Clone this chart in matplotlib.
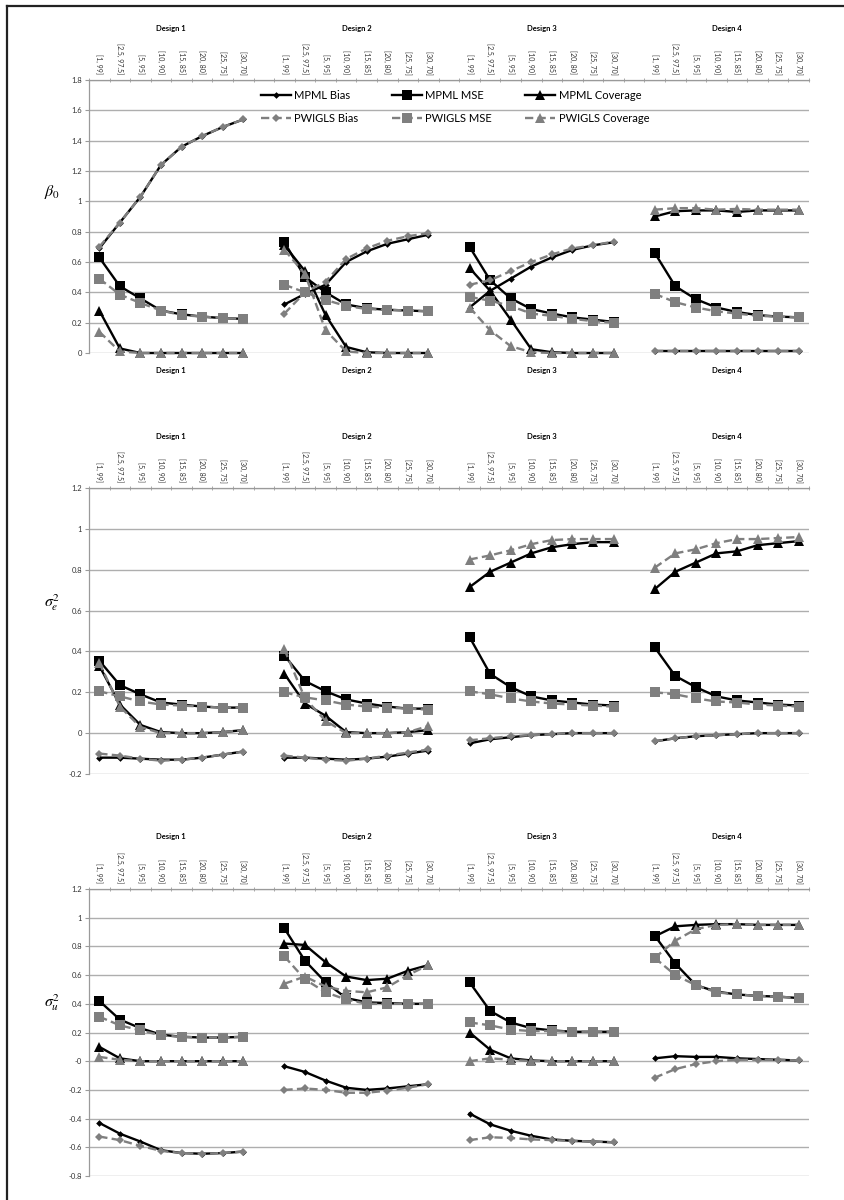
import numpy as np
import matplotlib.pyplot as plt
from matplotlib.lines import Line2D
from matplotlib.ticker import FixedLocator, FuncFormatter

plt.rcParams['font.family'] = ['Lato', 'DejaVu Sans']
plt.rcParams['mathtext.fontset'] = 'stix'
plt.rcParams['axes.unicode_minus'] = False

# Categories and designs
categories = ['[1, 99]', '[2.5, 97.5]', '[5, 95]', '[10, 90]',
              '[15, 85]', '[20, 80]', '[25, 75]', '[30, 70]']
designs = ['Design 1', 'Design 2', 'Design 3', 'Design 4']
series_names = ['MPML Bias', 'MPML MSE', 'MPML Coverage',
                'PWIGLS Bias', 'PWIGLS MSE', 'PWIGLS Coverage']

# beta_0 (values for design 1..4, 8 categories each)
b0_mpml_bias = [0.69, 0.86, 1.03, 1.24, 1.36, 1.43, 1.49, 1.54,
                0.32, 0.39, 0.45, 0.60, 0.67, 0.72, 0.75, 0.78,
                0.30, 0.41, 0.49, 0.57, 0.63, 0.68, 0.71, 0.73,
                0.015, 0.015, 0.015, 0.015, 0.015, 0.015, 0.015, 0.015]
b0_mpml_mse = [0.63, 0.44, 0.36, 0.28, 0.255, 0.24, 0.23, 0.225,
               0.73, 0.50, 0.40, 0.32, 0.295, 0.285, 0.28, 0.275,
               0.70, 0.48, 0.36, 0.29, 0.26, 0.235, 0.22, 0.205,
               0.66, 0.44, 0.355, 0.30, 0.27, 0.25, 0.24, 0.235]
b0_mpml_cov = [0.28, 0.03, 0, 0, 0, 0, 0, 0,
               0.71, 0.54, 0.25, 0.04, 0.005, 0, 0, 0,
               0.56, 0.41, 0.22, 0.025, 0.005, 0, 0, 0,
               0.90, 0.935, 0.94, 0.94, 0.93, 0.94, 0.94, 0.94]
b0_pwigls_bias = [0.70, 0.86, 1.03, 1.24, 1.36, 1.43, 1.49, 1.54,
                  0.26, 0.40, 0.47, 0.62, 0.69, 0.74, 0.77, 0.79,
                  0.45, 0.48, 0.54, 0.60, 0.65, 0.69, 0.71, 0.735,
                  0.015, 0.015, 0.015, 0.015, 0.015, 0.015, 0.015, 0.015]
b0_pwigls_mse = [0.49, 0.385, 0.33, 0.28, 0.25, 0.24, 0.23, 0.225,
                 0.45, 0.40, 0.35, 0.31, 0.29, 0.285, 0.28, 0.275,
                 0.37, 0.345, 0.31, 0.26, 0.245, 0.225, 0.21, 0.20,
                 0.39, 0.335, 0.30, 0.275, 0.26, 0.245, 0.24, 0.235]
b0_pwigls_cov = [0.14, 0.01, 0, 0, 0, 0, 0, 0,
                 0.68, 0.52, 0.15, 0.01, 0, 0, 0, 0,
                 0.30, 0.15, 0.045, 0.005, 0, 0, 0, 0,
                 0.945, 0.955, 0.955, 0.945, 0.95, 0.945, 0.945, 0.945]

# sigma_e^2
se_mpml_bias = [-0.12, -0.12, -0.125, -0.13, -0.13, -0.12, -0.105, -0.09,
                -0.12, -0.12, -0.125, -0.13, -0.125, -0.115, -0.10, -0.085,
                -0.05, -0.03, -0.02, -0.01, -0.005, 0, 0, 0,
                -0.04, -0.025, -0.015, -0.01, -0.005, 0, 0, 0]
se_mpml_mse = [0.355, 0.235, 0.19, 0.15, 0.14, 0.13, 0.125, 0.125,
               0.38, 0.255, 0.205, 0.165, 0.145, 0.13, 0.12, 0.12,
               0.47, 0.29, 0.225, 0.18, 0.16, 0.15, 0.14, 0.135,
               0.42, 0.28, 0.225, 0.18, 0.16, 0.15, 0.14, 0.135]
se_mpml_cov = [0.33, 0.14, 0.04, 0.005, 0, 0, 0.005, 0.015,
               0.29, 0.145, 0.085, 0.005, 0, 0, 0.005, 0.015,
               0.715, 0.79, 0.835, 0.88, 0.91, 0.925, 0.935, 0.935,
               0.705, 0.79, 0.835, 0.88, 0.89, 0.92, 0.93, 0.94]
se_pwigls_bias = [-0.10, -0.11, -0.125, -0.135, -0.13, -0.12, -0.105, -0.09,
                  -0.11, -0.12, -0.13, -0.135, -0.125, -0.11, -0.095, -0.08,
                  -0.035, -0.025, -0.015, -0.01, -0.005, 0, 0, 0,
                  -0.04, -0.025, -0.015, -0.01, -0.005, 0, 0, 0]
se_pwigls_mse = [0.205, 0.18, 0.155, 0.14, 0.135, 0.13, 0.125, 0.125,
                 0.20, 0.175, 0.16, 0.14, 0.13, 0.125, 0.12, 0.115,
                 0.205, 0.19, 0.17, 0.155, 0.145, 0.14, 0.135, 0.13,
                 0.20, 0.19, 0.17, 0.155, 0.15, 0.14, 0.135, 0.13]
se_pwigls_cov = [0.345, 0.13, 0.03, 0, 0, 0, 0.005, 0.015,
                 0.41, 0.17, 0.06, 0, 0, 0, 0.005, 0.035,
                 0.85, 0.87, 0.895, 0.925, 0.945, 0.95, 0.95, 0.95,
                 0.81, 0.88, 0.90, 0.93, 0.95, 0.95, 0.955, 0.96]

# sigma_u^2
su_mpml_bias = [-0.43, -0.505, -0.56, -0.62, -0.64, -0.645, -0.64, -0.63,
                -0.035, -0.075, -0.135, -0.185, -0.20, -0.19, -0.175, -0.16,
                -0.365, -0.44, -0.485, -0.52, -0.545, -0.555, -0.56, -0.565,
                0.02, 0.035, 0.03, 0.03, 0.02, 0.015, 0.01, 0.005]
su_mpml_mse = [0.42, 0.29, 0.23, 0.185, 0.17, 0.165, 0.165, 0.17,
               0.925, 0.70, 0.55, 0.44, 0.41, 0.405, 0.40, 0.40,
               0.55, 0.35, 0.27, 0.23, 0.215, 0.205, 0.205, 0.205,
               0.875, 0.68, 0.53, 0.485, 0.465, 0.455, 0.45, 0.44]
su_mpml_cov = [0.10, 0.02, 0, 0, 0, 0, 0, 0,
               0.82, 0.81, 0.69, 0.59, 0.565, 0.575, 0.63, 0.67,
               0.20, 0.08, 0.02, 0.005, 0, 0, 0, 0,
               0.87, 0.94, 0.95, 0.955, 0.955, 0.95, 0.95, 0.95]
su_pwigls_bias = [-0.525, -0.55, -0.59, -0.625, -0.64, -0.645, -0.64, -0.63,
                  -0.20, -0.19, -0.20, -0.22, -0.22, -0.205, -0.185, -0.16,
                  -0.55, -0.53, -0.535, -0.545, -0.55, -0.555, -0.56, -0.565,
                  -0.115, -0.055, -0.02, 0.0, 0.01, 0.01, 0.01, 0.005]
su_pwigls_mse = [0.31, 0.25, 0.215, 0.18, 0.17, 0.165, 0.165, 0.17,
                 0.73, 0.57, 0.48, 0.43, 0.40, 0.40, 0.40, 0.40,
                 0.27, 0.25, 0.22, 0.21, 0.21, 0.205, 0.205, 0.205,
                 0.72, 0.60, 0.53, 0.48, 0.465, 0.455, 0.45, 0.44]
su_pwigls_cov = [0.03, 0.01, 0, 0, 0, 0, 0, 0,
                 0.54, 0.59, 0.52, 0.49, 0.48, 0.515, 0.60, 0.67,
                 0.0, 0.02, 0.01, 0, 0, 0, 0, 0,
                 0.72, 0.84, 0.92, 0.95, 0.955, 0.95, 0.95, 0.95]

GREY = '#7f7f7f'
DASH = (0, (3.5, 1.8))
styles = [
    dict(color='black', ls='-', marker='D', ms=3.4),
    dict(color='black', ls='-', marker='s', ms=7),
    dict(color='black', ls='-', marker='^', ms=7),
    dict(color=GREY, ls=DASH, marker='D', ms=4.4),
    dict(color=GREY, ls=DASH, marker='s', ms=7),
    dict(color=GREY, ls=DASH, marker='^', ms=7.5),
]

ncat = len(categories)
step = ncat + 1
ntot = step * len(designs) - 1

fig = plt.figure(figsize=(8.45, 12), dpi=100)


def draw_panel(rect, data, ylim, ylabel, ylabel_y, bottom_labels=False, legend=False):
    ax = fig.add_axes(rect)
    handles = []
    for vals, st in zip(data, styles):
        for d in range(len(designs)):
            x = d * step + np.arange(ncat)
            y = vals[d * ncat:(d + 1) * ncat]
            h, = ax.plot(x, y, color=st['color'], ls=st['ls'], lw=1.7,
                         marker=st['marker'], ms=st['ms'], mec=st['color'],
                         mfc=st['color'], mew=0, clip_on=False)
        handles.append(h)
    ax.set_xlim(-0.5, ntot - 0.5)
    ax.set_ylim(*ylim)
    ax.set_yticks(np.arange(ylim[0], ylim[1] + 0.001, 0.2))
    ax.yaxis.set_major_formatter(FuncFormatter(lambda v, p: f'{round(v, 1):g}'))
    ax.grid(axis='y', color='#aeaeae', lw=1.0)
    ax.set_axisbelow(True)
    for s in ['bottom', 'right']:
        ax.spines[s].set_visible(False)
    for s in ['top', 'left']:
        ax.spines[s].set_color('#9a9a9a')
        ax.spines[s].set_linewidth(0.9)
    ax.tick_params(axis='y', labelsize=5.5, length=3, color='#9a9a9a', pad=2,
                   labelcolor='#333333')

    # top category axis
    pos, labs = [], []
    for d in range(len(designs)):
        for i, c in enumerate(categories):
            pos.append(d * step + i)
            labs.append(c)
    ax.xaxis.tick_top()
    ax.set_xticks(pos)
    ax.set_xticklabels(labs, rotation=-90, fontsize=5)
    ax.xaxis.set_minor_locator(FixedLocator(np.arange(-0.5, ntot, 1.0)))
    ax.tick_params(axis='x', which='major', length=0, pad=4, labelcolor='#333333')
    ax.tick_params(axis='x', which='minor', length=3, direction='inout',
                   color='#9a9a9a', top=True, bottom=False)

    for d, name in enumerate(designs):
        cx = d * step + (ncat - 1) / 2
        ax.annotate(name, xy=(cx, 1), xycoords=('data', 'axes fraction'),
                    xytext=(0, 52), textcoords='offset pixels', ha='center',
                    va='center', fontsize=5.5, fontweight='bold')
        if bottom_labels:
            ax.annotate(name, xy=(cx, 0), xycoords=('data', 'axes fraction'),
                        xytext=(0, -18), textcoords='offset pixels', ha='center',
                        va='center', fontsize=5.5, fontweight='bold')

    ax.set_ylabel(ylabel, rotation=0, fontsize=11.5, va='center', ha='center')
    ax.yaxis.set_label_coords(-0.051, ylabel_y)

    if legend:
        order = [0, 3, 1, 4, 2, 5]
        ax.legend([handles[i] for i in order], [series_names[i] for i in order],
                  ncol=3, loc='upper left', bbox_to_anchor=(0.225, 1.0),
                  frameon=False, fontsize=8, handlelength=2.7,
                  handletextpad=0.3, columnspacing=3.0, labelspacing=1.1)
    return ax


left, width = 89 / 845, 720 / 845
draw_panel([left, 1 - 353 / 1200, width, 273 / 1200],
           [b0_mpml_bias, b0_mpml_mse, b0_mpml_cov,
            b0_pwigls_bias, b0_pwigls_mse, b0_pwigls_cov],
           (0, 1.8), r'$\beta_0$', 0.59, bottom_labels=True, legend=True)
draw_panel([left, 1 - 774 / 1200, width, 286 / 1200],
           [se_mpml_bias, se_mpml_mse, se_mpml_cov,
            se_pwigls_bias, se_pwigls_mse, se_pwigls_cov],
           (-0.2, 1.2), r'$\sigma_e^2$', 0.598)
draw_panel([left, 1 - 1176 / 1200, width, 287 / 1200],
           [su_mpml_bias, su_mpml_mse, su_mpml_cov,
            su_pwigls_bias, su_pwigls_mse, su_pwigls_cov],
           (-0.8, 1.2), r'$\sigma_u^2$', 0.603)

# frame lines at top and left edge of the picture
fig.add_artist(Line2D([7 / 845, 1], [1 - 5.5 / 1200, 1 - 5.5 / 1200],
                      color='#222222', lw=1.6))
fig.add_artist(Line2D([7 / 845, 7 / 845], [0, 1 - 5.5 / 1200],
                      color='#222222', lw=1.6))

fig.savefig('out.png', dpi=100)
